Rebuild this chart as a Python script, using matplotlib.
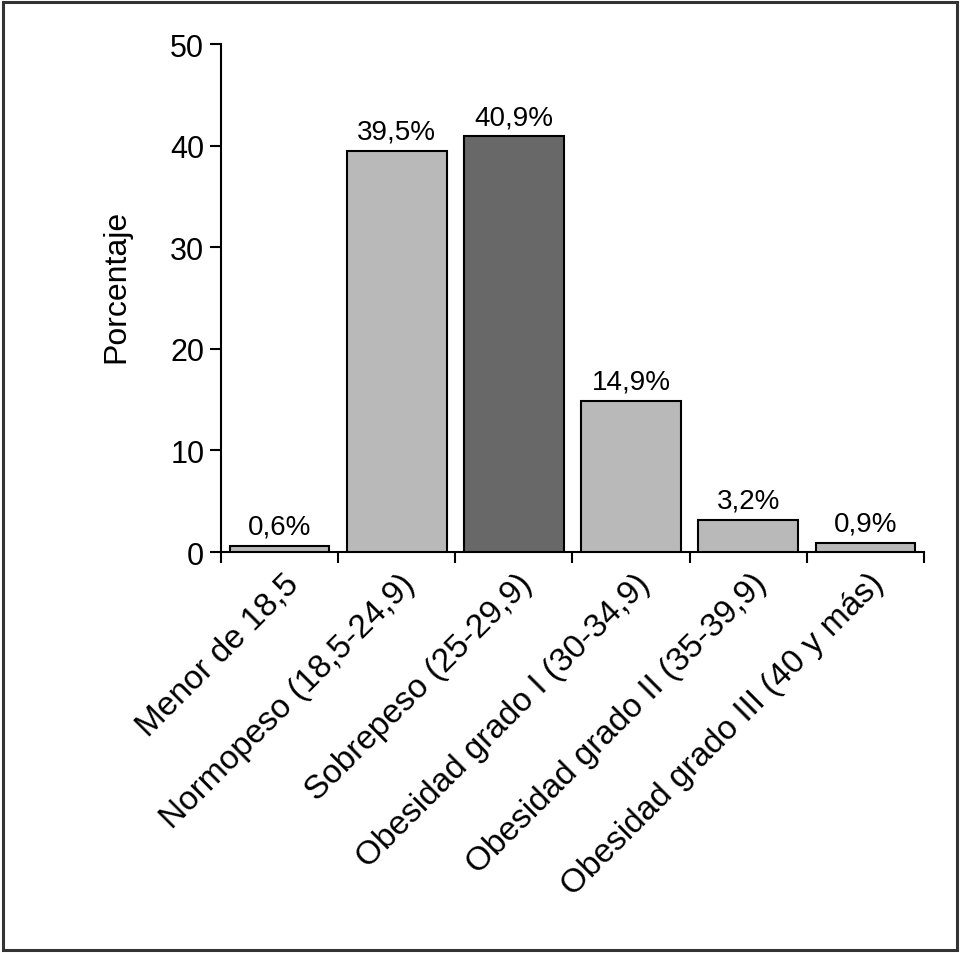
import matplotlib
matplotlib.use("Agg")
import matplotlib.pyplot as plt
from matplotlib.patches import Rectangle

plt.rcParams["font.family"] = ["Liberation Sans", "DejaVu Sans"]

categories = ["Menor de 18,5", "Normopeso (18,5-24,9)", "Sobrepeso (25-29,9)",
              "Obesidad grado I (30-34,9)", "Obesidad grado II (35-39,9)",
              "Obesidad grado III (40 y más)"]
values = [0.6, 39.5, 40.9, 14.9, 3.2, 0.9]
value_labels = ["0,6%", "39,5%", "40,9%", "14,9%", "3,2%", "0,9%"]
colors = ["#b9b9b9", "#b9b9b9", "#686868", "#b9b9b9", "#b9b9b9", "#b9b9b9"]

fig = plt.figure(figsize=(9.6, 9.54), dpi=100)
ax = fig.add_axes([0.2302, 0.4203, 0.7323, 0.5325])

x = list(range(len(categories)))
ax.bar(x, values, width=0.85, color=colors, edgecolor="black", linewidth=1.5, zorder=3)

for xi, v, lab in zip(x, values, value_labels):
    ax.text(xi, v + 0.6, lab, ha="center", va="bottom", fontsize=20)

ax.set_xlim(-0.5, 5.5)
ax.set_ylim(0, 50)
ax.set_yticks([0, 10, 20, 30, 40, 50])
ax.tick_params(axis="y", labelsize=22, length=8, width=1.5, direction="out", pad=4)
ax.set_xticks([i - 0.5 for i in range(len(categories) + 1)])
ax.set_xticklabels([])
ax.tick_params(axis="x", length=8, width=1.5, direction="out")

for xi, lab in zip(x, categories):
    ax.annotate(lab, xy=(xi, 0), xycoords=("data", "axes fraction"),
                xytext=(10, -19), textcoords="offset points",
                rotation=45, ha="right", va="center", rotation_mode="anchor",
                fontsize=24)

ax.set_ylabel("Porcentaje", fontsize=23)
ax.yaxis.set_label_coords(-0.127, 0.524)

ax.spines["top"].set_visible(False)
ax.spines["right"].set_visible(False)
ax.spines["left"].set_linewidth(1.5)
ax.spines["bottom"].set_linewidth(1.5)

fig.patches.append(Rectangle((0.003, 0.003), 0.994, 0.994, transform=fig.transFigure,
                             fill=False, edgecolor="#333333", linewidth=2.2))

fig.savefig("out.png", dpi=100)
